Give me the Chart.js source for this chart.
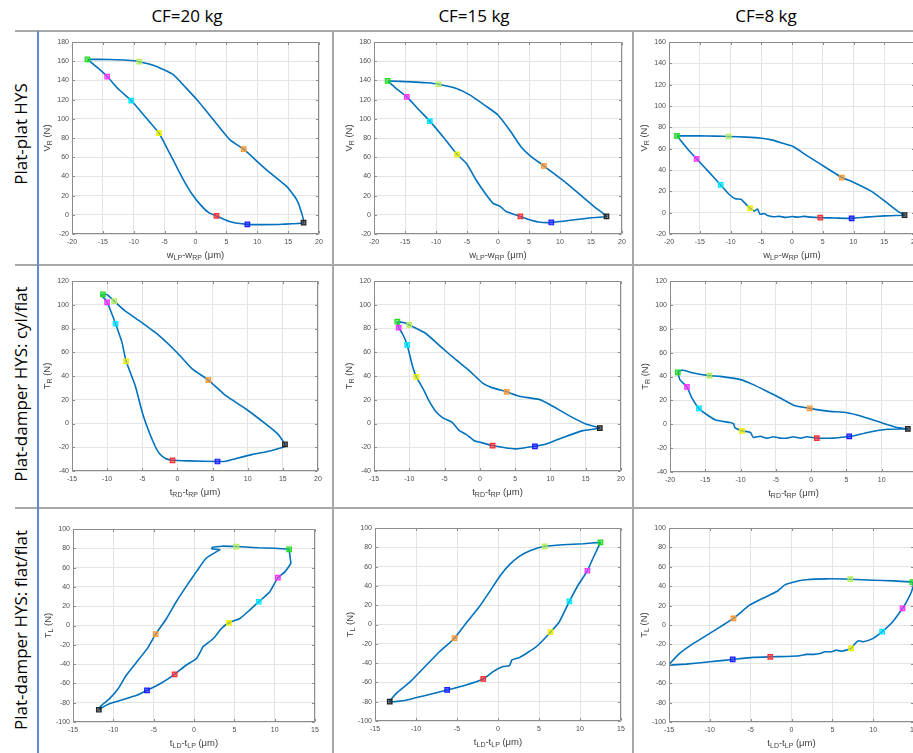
<!DOCTYPE html>
<html><head><meta charset="utf-8">
<script src="https://cdn.jsdelivr.net/npm/chart.js@4.4.1/dist/chart.umd.min.js"></script>
<style>
html,body{margin:0;padding:0;width:913px;height:753px;overflow:hidden;background:#fff;}
#wrap{position:relative;width:913px;height:753px;overflow:hidden;}
.hl{position:absolute;height:2px;background:#a9a9a9;}
.vl{position:absolute;width:2px;background:#a9a9a9;}
.head{position:absolute;top:15px;transform:translate(-50%,-50%);font-family:"Open Sans",sans-serif;font-size:17px;color:#000;white-space:nowrap;}
.rowlab{position:absolute;left:20px;transform:translate(-50%,-50%) rotate(-90deg);font-family:"Open Sans",sans-serif;font-size:17px;color:#000;white-space:nowrap;}
canvas{position:absolute;}
</style></head>
<body><div id="wrap">
<div class="hl" style="left:15px;top:30px;width:898px"></div>
<div class="hl" style="left:15px;top:264px;width:898px"></div>
<div class="hl" style="left:15px;top:507px;width:898px"></div>
<div class="vl" style="left:37px;top:31px;height:722px;background:#5b8ad6;width:1.5px"></div>
<div class="vl" style="left:332px;top:31px;height:722px"></div>
<div class="vl" style="left:632px;top:31px;height:722px"></div>
<div class="head" style="left:187px">CF=20 kg</div>
<div class="head" style="left:474px">CF=15 kg</div>
<div class="head" style="left:766px">CF=8 kg</div>
<div class="rowlab" style="top:134px">Plat-plat HYS</div>
<div class="rowlab" style="top:384px">Plat-damper HYS: cyl/flat</div>
<div class="rowlab" style="top:630px">Plat-damper HYS: flat/flat</div>
</div>
<script>
// ---------- DATA ----------
const markerColors = ['#22dd22','#b4ee5a','#ff9933','#222222','#1a1aff','#ff3030','#eeee00','#00e5ff','#ff33ff'];

// Row 1: Plat-plat HYS  (V_R vs w_LP-w_RP)
const p1X = [-17.5,-14,-11,-9.1,-6.3,-3.6,-1.5,0.2,2.9,5.6,7.8,11.5,14.8,16.4,17.2,17.5,14,11,8.4,5.5,3.4,2.2,1,-0.6,-2,-3.3,-4.5,-5.9,-8,-10.4,-12.5,-14.3,-16,-17.5];
const p1Y = [162,161.7,161,159.5,154.6,146,132,120,99,78,68.3,46.8,29.4,15.5,1.6,-8.2,-9.8,-10.2,-10,-7,-1.2,2,9,22,37,53,68,85,101,119,131,144,154,162];
const p1MX = [-17.5,-9.1,7.8,17.5,8.4,3.4,-5.9,-10.4,-14.3];
const p1MY = [162,159.5,68.3,-8.2,-10,-1.2,85,119,144];

const p2X = [-17.8,-14,-11.5,-9.6,-6.7,-4.5,-1.9,0,1.9,3.7,5.1,7.4,10.4,13.6,15.8,17.5,15,12,8.6,6.5,5,3.6,1.3,0.3,-0.8,-1.9,-3.5,-5.1,-6.6,-8.7,-11,-13,-14.7,-16.5,-17.8];
const p2Y = [139.4,138.5,137.5,136,131.5,124.6,113,104,88,71,62,50.9,36.3,19,7,-1.7,-3,-5.5,-8,-7.5,-5,-1.7,3.5,9,12,20.8,36,53.6,63,80,97.6,111,122.8,132,139.4];
const p2MX = [-17.8,-9.6,7.4,17.5,8.6,3.6,-6.6,-11,-14.7];
const p2MY = [139.4,136,50.9,-1.7,-8,-1.7,63,97.6,122.8];

const p3X = [-18.7,-15,-12.5,-10.3,-7.5,-5.2,-3.1,-1.5,0.2,2.3,4.5,8.1,9.8,13,15.2,17.3,18.3,15,12,9.7,7,4.6,3,2,1,0,-1,-2,-3,-4,-4.5,-5.2,-5.6,-6.1,-6.8,-7.5,-8.3,-9.2,-10.2,-11.6,-13.5,-15.5,-17,-18.7];
const p3Y = [72,72,71.8,71.4,70.8,70,68,65,62,54,46,32.9,29,19.7,10.3,1,-2.2,-3,-4.2,-5.3,-5,-4.7,-4.2,-3.5,-4.2,-3.6,-4.4,-3.5,-3.8,-2.6,-0.8,-1.5,3.5,1.5,4,8,12.5,13,17,26,38,50.4,60,72];
const p3MX = [-18.7,-10.3,8.1,18.3,9.7,4.6,-6.8,-11.6,-15.5];
const p3MY = [72,71.4,32.9,-2.2,-5.3,-4.7,4,26,50.4];

// Row 2: Plat-damper HYS cyl/flat (T_R vs t_RD-t_RP)
const p4X = [-10.6,-10,-9,-7.5,-5.5,-2.6,0,2.1,4.4,6.9,9.8,12.6,14.3,15,15.3,15.2,12.5,10.7,8.3,6.9,5.7,1.7,-0.7,-1.7,-2.6,-3.1,-4,-5,-6,-7.3,-7.9,-8.8,-9.5,-10,-10.5,-10.8,-10.6];
const p4Y = [108.7,108.5,103,95,86.8,74,59.4,46,36.6,23.4,12,-0.6,-9,-14.6,-17.5,-19.5,-24,-26,-29.6,-31.8,-32,-31.5,-31,-29.5,-25,-20,-7.6,9.3,31.8,52.4,68.5,84,95,102,106,107.5,108.7];
const p4MX = [-10.6,-9,4.4,15.3,5.7,-0.7,-7.3,-8.8,-10];
const p4MY = [108.7,103,36.6,-17.5,-32,-31,52.4,84,102];

const p5X = [-11.7,-10.8,-10,-7.7,-5.3,-3.4,-1.5,0.4,1.8,3.8,5.6,8.4,9.9,12.7,15.1,17,14.6,11.8,9.4,7.8,5,3.2,1.8,0.1,-0.8,-2,-2.9,-3.9,-5.3,-6.3,-7.2,-8,-9,-9.6,-10.3,-11,-11.5,-11.7];
const p5Y = [85.7,85,83,76,63.4,53.7,44.5,34,30,26.7,23,20.3,16,6.4,-0.6,-3.9,-6,-11.7,-17.3,-19.2,-21.4,-20,-18.6,-15.9,-14.5,-8.9,-6,0.8,5,10.6,19,28.7,39.2,49.5,66.2,76,80.7,85.7];
const p5MX = [-11.7,-10,3.8,17,7.8,1.8,-9,-10.3,-11.5];
const p5MY = [85.7,83,26.7,-3.9,-19.2,-18.6,39.2,66.2,80.7];

const p6X = [-18.9,-18.3,-16.7,-14.4,-12.9,-10,-8.2,-6.3,-4.4,-2.5,-0.2,2.3,5.1,7,9.9,12.2,13.7,10.8,8,6.1,5.4,3.2,0.8,-0.6,-1.5,-2.5,-3.4,-4.4,-5.3,-6.3,-7.2,-8.2,-8.6,-9.8,-10.8,-11,-11.5,-13.4,-14.5,-15.9,-16.9,-17.6,-18.6,-18.9];
const p6Y = [43.5,45.4,42.9,40.7,40.1,37.4,33.2,27.7,22,16,13.3,11,9.7,6.9,1.4,-2.8,-3.9,-4.2,-6.9,-9.7,-10.2,-11.6,-11.6,-10.5,-11.6,-10.5,-11.6,-11.6,-10.5,-11.6,-10,-11.1,-6.9,-5.5,-2.8,0.5,1.4,3.3,6.9,13.3,22.1,31.3,37.4,43.5];
const p6MX = [-18.9,-14.4,-0.2,13.7,5.4,0.8,-9.8,-15.9,-17.6];
const p6MY = [43.5,40.7,13.3,-3.9,-10.2,-11.6,-5.5,13.3,31.3];

// Row 3: Plat-damper HYS flat/flat (T_L vs t_LD-t_LP)
const p7X = [11.8,10,8,6.5,5.25,3.5,2.3,2.2,3.2,2.9,1.5,0.3,-1,-2.2,-3.4,-4.76,-5.8,-7.1,-8.4,-9.4,-10.5,-11.5,-11.8,-11.3,-10.5,-8.8,-7.1,-5.83,-4.2,-2.4,-1,0.3,0.9,1.1,2.4,3.4,4.34,5.7,6.9,8.03,9.4,10.4,11.3,12,11.9,11.8];
const p7Y = [79,80,80.5,81.3,81.8,82.2,81,79.5,78.6,77,69.7,55.8,40,24.6,7.3,-9,-24,-37.8,-51.6,-65.5,-76,-83,-87.3,-84.6,-81,-76.6,-72.4,-67.2,-60.3,-50.6,-41.2,-34.3,-25.6,-22.2,-13.5,-3.1,2.8,7.3,16,24.6,35,49.6,55.8,64.5,71.4,79];
const p7MX = [11.8,5.25,-4.76,-11.8,-5.83,-2.4,4.34,8.03,10.4];
const p7MY = [79,81.8,-9,-87.3,-67.2,-50.6,2.8,24.6,49.6];

const p8X = [12.5,10.4,7.9,5.7,3.9,2.6,1.4,0.2,-1,-2.4,-3.9,-5.3,-7.1,-9.1,-10.7,-12.4,-13.2,-11.2,-9.1,-6.2,-3.9,-1.8,-0.6,0.6,1.4,1.7,2.6,4.7,6.4,7.5,8.7,9.8,10.9,11.6,12.5];
const p8Y = [85.1,83.7,82.7,81,76.5,70.6,62,49.8,34.3,17,1.4,-14.2,-28,-45.3,-59.2,-71.3,-80,-78.5,-74,-67.8,-62.6,-56.4,-48.8,-43.6,-42.6,-36.7,-34.3,-22.8,-8,3.1,23.9,41.2,55.7,68.9,85.1];
const p8MX = [12.5,5.7,-5.3,-13.2,-6.2,-1.8,6.4,8.7,10.9];
const p8MY = [85.1,81,-14.2,-80,-67.8,-56.4,-8,23.9,55.7];

const p9X = [-15,-13.7,-12,-10,-7.1,-5.1,-3.5,-1.8,-0.8,0.2,1.8,4.3,7.2,10,12.4,14.8,14.9,14.7,14.1,13.6,12.4,11.1,10,8.8,8.2,7.8,7.3,6.7,6.1,5.5,4.9,4.1,3.5,2.7,1.8,1,-0.6,-2.6,-4.7,-7.2,-10,-12.9,-15];
const p9Y = [-40.7,-29.3,-19,-8.6,6.9,20.7,27.6,34.5,41.4,44.1,46.6,47.6,47.2,46.2,45.5,44.1,41.4,34.5,24.1,17.2,3.4,-6.9,-13.8,-17.2,-16.2,-19,-24.1,-25.9,-27,-25.9,-27.6,-27.6,-29.3,-30.3,-30.3,-31.7,-32.4,-32.8,-33.4,-35.5,-37.9,-40.3,-41.4];
const p9MX = [14.8,7.2,-7.1,-15.6,-7.2,-2.6,7.3,11.1,13.6];
const p9MY = [44.1,47.2,6.9,-41,-35.5,-32.8,-24.1,-6.9,17.2];

// axis ranges per panel
const xMins = [-20,-20,-20,-15,-15,-20,-15,-15,-15];
const xMaxs = [20,20,20,20,20,15,15,15,15];
const yMins = [-20,-20,-20,-40,-40,-40,-100,-100,-100];
const yMaxs = [180,180,160,120,120,120,100,100,100];

// axis titles (text, subscript?)
const xTitles = [
  [['w',0],['LP',1],['-w',0],['RP',1],[' (\u03bcm)',0]],
  [['t',0],['RD',1],['-t',0],['RP',1],[' (\u03bcm)',0]],
  [['t',0],['LD',1],['-t',0],['LP',1],[' (\u03bcm)',0]]
];
const yTitles = [
  [['V',0],['R',1],[' (N)',0]],
  [['T',0],['R',1],[' (N)',0]],
  [['T',0],['L',1],[' (N)',0]]
];

const allX=[p1X,p2X,p3X,p4X,p5X,p6X,p7X,p8X,p9X];
const allY=[p1Y,p2Y,p3Y,p4Y,p5Y,p6Y,p7Y,p8Y,p9Y];
const allMX=[p1MX,p2MX,p3MX,p4MX,p5MX,p6MX,p7MX,p8MX,p9MX];
const allMY=[p1MY,p2MY,p3MY,p4MY,p5MY,p6MY,p7MY,p8MY,p9MY];

// ---------- LAYOUT ----------
const boxes = [
  [72,42,319,234],[374,42,622,234],[669,42,915,234],
  [72,281,318,471],[374,281,621,471],[670,281,917,472],
  [73,529,315,722],[375,528,621,721],[669,528,914,722]
];

function rich(ctx, parts, cx, cy, rot){
  const big='9.5px "Liberation Sans", Arial, sans-serif', small='7px "Liberation Sans", Arial, sans-serif';
  let w=0;
  parts.forEach(p=>{ctx.font=p[1]?small:big; w+=ctx.measureText(p[0]).width;});
  ctx.save(); ctx.translate(cx,cy); if(rot) ctx.rotate(-Math.PI/2);
  ctx.textBaseline='middle'; ctx.textAlign='left'; ctx.fillStyle='#404040';
  let x=-w/2;
  parts.forEach(p=>{ctx.font=p[1]?small:big; ctx.fillText(p[0], x, p[1]?2.8:0); x+=ctx.measureText(p[0]).width;});
  ctx.restore();
}

const framePlugin = {
  id:'frame',
  afterDraw(chart){
    const {ctx, chartArea:a, scales} = chart;
    const o = chart.options.plugins.frame;
    ctx.save();
    ctx.strokeStyle='#8c8c8c'; ctx.lineWidth=1;
    const l=Math.round(a.left)+0.5, t=Math.round(a.top)+0.5, r=Math.round(a.right)-0.5, b=Math.round(a.bottom)-0.5;
    ctx.beginPath(); ctx.rect(l,t,r-l,b-t); ctx.stroke();
    ctx.beginPath();
    scales.x.ticks.forEach(tk=>{const px=Math.round(scales.x.getPixelForValue(tk.value))+0.5;
      ctx.moveTo(px,b); ctx.lineTo(px,b-2.5); ctx.moveTo(px,t); ctx.lineTo(px,t+2.5);});
    scales.y.ticks.forEach(tk=>{const py=Math.round(scales.y.getPixelForValue(tk.value))+0.5;
      ctx.moveTo(l,py); ctx.lineTo(l+2.5,py); ctx.moveTo(r,py); ctx.lineTo(r-2.5,py);});
    ctx.stroke();
    ctx.restore();
    rich(ctx, o.xt, (a.left+a.right)/2, a.bottom+21, false);
    rich(ctx, o.yt, a.left-25, (a.top+a.bottom)/2, true);
  }
};

const PADL=44, PADT=8, PADR=8, PADB=32;
const wrap=document.getElementById('wrap');
const tickFont={family:'"Liberation Sans", Arial, sans-serif', size:7};

for(let i=0;i<9;i++){
  const [L,T,R,B]=boxes[i];
  const row=Math.floor(i/3);
  const cv=document.createElement('canvas');
  let W=(R-L)+PADL+PADR, H=(B-T)+PADT+PADB;
  cv.width=W; cv.height=H; cv.style.width=W+'px'; cv.style.height=H+'px';
  wrap.appendChild(cv);
  const line=allX[i].map((v,k)=>({x:v,y:allY[i][k]}));
  const marks=allMX[i].map((v,k)=>({x:v,y:allMY[i][k]}));
  const ch=new Chart(cv,{
    type:'scatter',
    data:{datasets:[
      {data:marks, showLine:false, pointStyle:'rect', pointRadius:3.2, pointHoverRadius:3.2,
       pointBackgroundColor:markerColors.map(c=>c+'99'), pointBorderColor:markerColors, pointBorderWidth:1.2},
      {data:line, showLine:true, borderColor:'#0072BD', borderWidth:1.6, pointRadius:0, pointHoverRadius:0, tension:0.15, fill:false}
    ]},
    options:{
      responsive:false, maintainAspectRatio:false, animation:false, devicePixelRatio:1,
      layout:{padding:{left:0,top:PADT,right:PADR,bottom:0}},
      plugins:{legend:{display:false}, tooltip:{enabled:false}, frame:{xt:xTitles[row], yt:yTitles[row]}},
      scales:{
        x:{type:'linear', min:xMins[i], max:xMaxs[i],
           ticks:{stepSize:5, font:tickFont, color:'#4d4d4d', padding:4, maxRotation:0, autoSkip:false},
           grid:{color:'#e4e4e4', drawTicks:false}, border:{display:false},
           afterFit(s){s.height=PADB;}},
        y:{type:'linear', min:yMins[i], max:yMaxs[i],
           ticks:{stepSize:20, font:tickFont, color:'#4d4d4d', padding:3, autoSkip:false},
           grid:{color:'#e4e4e4', drawTicks:false}, border:{display:false},
           afterFit(s){s.width=PADL;}}
      }
    },
    plugins:[framePlugin]
  });
  let ca=ch.chartArea;
  const dw=(R-L)-(ca.right-ca.left), dh=(B-T)-(ca.bottom-ca.top);
  if(Math.abs(dw)>0.5||Math.abs(dh)>0.5){
    W+=dw; H+=dh; ch.resize(W,H); ca=ch.chartArea;
  }
  cv.style.left=(L-ca.left)+'px'; cv.style.top=(T-ca.top)+'px';
}
</script>
</body></html>
